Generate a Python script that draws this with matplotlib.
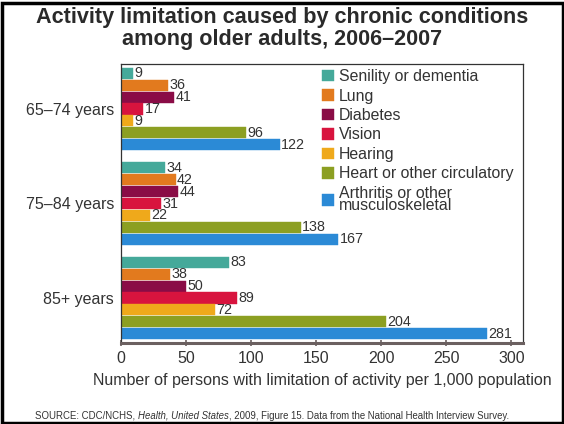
import matplotlib
matplotlib.use("Agg")
import matplotlib.pyplot as plt
from matplotlib.patches import Rectangle
import numpy as np

plt.rcParams['font.family'] = ['Liberation Sans', 'DejaVu Sans']

groups = ["65–74 years", "75–84 years", "85+ years"]
conditions = ["Senility or dementia", "Lung", "Diabetes", "Vision", "Hearing",
              "Heart or other circulatory", "Arthritis or other\nmusculoskeletal"]
colors = ["#45a99a", "#e27a1e", "#8a0c46", "#d8143e", "#efa91b", "#8c9f22", "#2b8ad6"]
values = {
    "Senility or dementia": [9, 34, 83],
    "Lung": [36, 42, 38],
    "Diabetes": [41, 44, 50],
    "Vision": [17, 31, 89],
    "Hearing": [9, 22, 72],
    "Heart or other circulatory": [96, 138, 204],
    "Arthritis or other\nmusculoskeletal": [122, 167, 281],
}
xticks = [0, 50, 100, 150, 200, 250, 300]

W, H = 564, 424
fig = plt.figure(figsize=(W/100, H/100), dpi=100)
ax = fig.add_axes([121/W, 1-343/H, (523-121)/W, (343-64)/H])

txt = "#333333"
pitch = 0.126
bh = 0.118
centers = np.arange(len(groups))
for j, cond in enumerate(conditions):
    ys = centers + (j - 3) * pitch
    vals = values[cond]
    ax.barh(ys, vals, height=bh, color=colors[j], label=cond,
            edgecolor=colors[j], linewidth=0.3)
    for y, v in zip(ys, vals):
        ax.text(v + 1.0, y, str(v), va='center', ha='left', fontsize=10.3, color=txt)

ax.set_xlim(0, 309)
ax.set_ylim(2.476, -0.476)
ax.set_yticks(centers)
ax.set_yticklabels(groups, fontsize=11.5, color=txt)
ax.tick_params(axis='y', length=0, pad=5)
ax.set_xticks(xticks)
ax.set_xticklabels([str(t) for t in xticks], fontsize=11.5, color=txt)
ax.tick_params(axis='x', length=4, width=1.2, color="#6b6060", pad=4, direction='inout')
for s in ['top', 'right', 'left']:
    ax.spines[s].set_color("#333333")
    ax.spines[s].set_linewidth(0.9)
ax.spines['bottom'].set_color("#6b6060")
ax.spines['bottom'].set_linewidth(2.2)
ax.set_xlabel("Number of persons with limitation of activity per 1,000 population",
              fontsize=11.5, color=txt, labelpad=5)

leg = ax.legend(loc='upper left', bbox_to_anchor=(319/W, 1-66/H),
                bbox_transform=fig.transFigure, frameon=False, fontsize=11.4,
                handlelength=0.75, handleheight=0.75, handletextpad=0.3,
                labelspacing=0.28, borderaxespad=0, borderpad=0.2)
for t in leg.get_texts():
    t.set_color(txt)
    t.set_linespacing(0.8)

fig.text(0.5, 1-17/H, "Activity limitation caused by chronic conditions",
         ha='center', va='center', fontsize=15.6, fontweight='bold', color="#2a2a2a")
fig.text(0.5, 1-39/H, "among older adults, 2006–2007",
         ha='center', va='center', fontsize=15.6, fontweight='bold', color="#2a2a2a")

# source line with italic part
parts = [("SOURCE: CDC/NCHS, ", 'normal'), ("Health, United States", 'italic'),
         (", 2009, Figure 15. Data from the National Health Interview Survey.", 'normal')]
fig.canvas.draw()
r = fig.canvas.get_renderer()
x = 35
for s, st in parts:
    t = fig.text(x/W, 1-416/H, s, ha='left', va='center', fontsize=6.9,
                 style=st, color="#333333")
    bb = t.get_window_extent(renderer=r)
    x += bb.width

fig.patches.append(Rectangle((1.5/W, 1.5/H), (W-3)/W, (H-4)/H, transform=fig.transFigure,
                             fill=False, edgecolor='black', linewidth=2.5))

fig.savefig("out.png", dpi=100)
